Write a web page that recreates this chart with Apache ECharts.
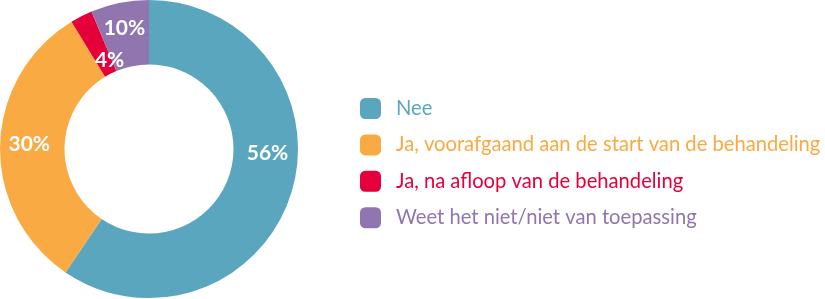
<!DOCTYPE html>
<html>
<head>
<meta charset="utf-8">
<style>
html,body{margin:0;padding:0;background:#fff;}
#chart{width:825px;height:299px;}
</style>
<script src="https://cdn.jsdelivr.net/npm/echarts@6/dist/echarts.min.js"></script>
</head>
<body>
<div id="chart"></div>
<script>
// Categories (legend order)
const categories = [
  'Nee',
  'Ja, voorafgaand aan de start van de behandeling',
  'Ja, na afloop van de behandeling',
  'Weet het niet/niet van toepassing'
];
// Slice sizes as drawn in the picture (share of the circle, %)
const sliceValues = [59.4, 31.8, 2.4, 6.3];
// Label texts printed on the slices
const sliceLabels = ['56%', '30%', '4%', '10%'];
const colors = ['#5aa6be', '#f9aa43', '#e5003b', '#9175ae'];

// label nudges (text placement only)
const labelNudge = [[4, -31], [0, -2], [15, 18], [-1, -3]];

const chart = echarts.init(document.getElementById('chart'), null, {renderer: 'canvas'});
const fontFam = 'Lato, "Noto Sans", sans-serif';
chart.setOption({
  animation: false,
  color: colors,
  legend: {
    orient: 'vertical',
    left: 355,
    top: 93,
    itemWidth: 21,
    itemHeight: 21,
    itemGap: 15.4,
    icon: 'roundRect',
    selectedMode: false,
    textStyle: {fontFamily: fontFam, fontSize: 20.2, lineHeight: 21, padding: [0, 0, 0, 10]},
    data: categories.map((c, i) => ({name: c, textStyle: {color: colors[i]}}))
  },
  series: [{
    type: 'pie',
    center: [149, 149],
    radius: [84.5, 149],
    startAngle: 90,
    clockwise: true,
    avoidLabelOverlap: false,
    itemStyle: {borderWidth: 0},
    label: {
      show: true,
      position: 'inside',
      color: '#fff',
      fontFamily: fontFam,
      fontWeight: 'bold',
      fontSize: 21,
      formatter: p => sliceLabels[p.dataIndex]
    },
    labelLine: {show: false},
    labelLayout: p => ({dx: labelNudge[p.dataIndex][0], dy: labelNudge[p.dataIndex][1]}),
    emphasis: {disabled: true},
    data: categories.map((c, i) => ({name: c, value: sliceValues[i]}))
  }]
});
</script>
</body>
</html>
